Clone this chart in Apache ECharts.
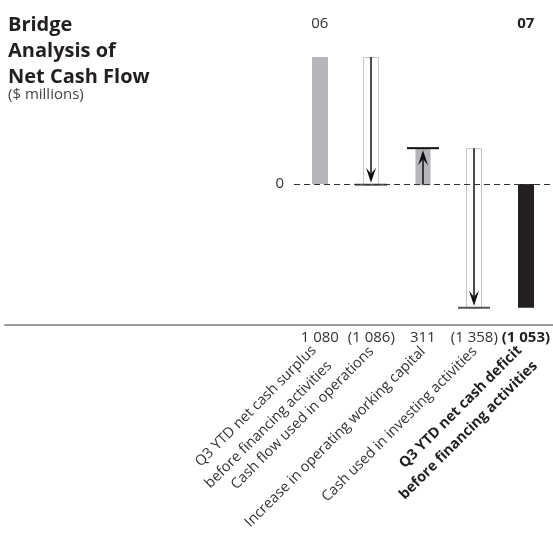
<!DOCTYPE html>
<html><head><meta charset="utf-8">
<script src="https://cdn.jsdelivr.net/npm/echarts@6/dist/echarts.min.js"></script>
<style>html,body{margin:0;padding:0;background:#fff}#c{width:553px;height:534px}</style>
</head><body><div id="c"></div>
<script>
const categories = [
  'Q3 YTD net cash surplus\nbefore financing activities',
  'Cash flow used in operations',
  'Increase in operating working capital',
  'Cash used in investing activities',
  'Q3 YTD net cash deficit\nbefore financing activities'
];
const values = [1080, -1086, 311, -1358, -1053];
const kinds = ['total', 'change', 'change', 'change', 'total'];
const yearLabels = ['06', '', '', '', '07'];
const yMin = -1200, yMax = 1200, yStep = 1200;

const FONT = 'Open Sans';
function fmt(v) {
  const s = String(Math.abs(v)).replace(/\B(?=(\d{3})+(?!\d))/g, ' ');
  return v < 0 ? '(' + s + ')' : s;
}
const valueLabels = values.map(fmt);

// build bridge data: [index, start, end, kindFlag]
let running = 0;
const bridge = values.map((v, i) => {
  let s, e;
  if (kinds[i] === 'total') { s = 0; e = v; running = v; }
  else { s = running; e = running + v; running = e; }
  return [i, s, e, kinds[i] === 'total' ? 0 : 1];
});

function renderItem(params, api) {
  const i = api.value(0), s = api.value(1), e = api.value(2), k = api.value(3);
  const a = api.coord([i, s]), b = api.coord([i, e]);
  const x = Math.round(a[0]);
  const w = 16, cap = 32;
  const top = Math.min(a[1], b[1]), h = Math.abs(a[1] - b[1]);
  const children = [];
  if (k === 0) {
    children.push({type: 'rect', shape: {x: x - w / 2, y: top, width: w, height: h},
      style: {fill: e >= 0 ? '#b5b6b9' : '#231f20'}});
  } else {
    const up = e > s;
    children.push({type: 'rect', shape: {x: x - w / 2 + 0.5, y: top + 0.5, width: w - 1, height: h},
      style: {fill: up ? '#b5b6b9' : '#ffffff', stroke: up ? null : '#c4c4c6', lineWidth: 1}});
    const dir = up ? -1 : 1;
    const tipY = b[1] - dir * 2;
    const headLen = 15, headW = 5;
    children.push({type: 'line', shape: {x1: x, y1: a[1], x2: x, y2: tipY - dir * headLen * 0.6},
      style: {stroke: '#111', lineWidth: 1.5}});
    children.push({type: 'polygon', shape: {points: [[x, tipY], [x - headW, tipY - dir * headLen],
      [x, tipY - dir * headLen * 0.6], [x + headW, tipY - dir * headLen]]}, style: {fill: '#111'}});
    children.push({type: 'line', shape: {x1: x - cap / 2, y1: b[1], x2: x + cap / 2, y2: b[1]},
      style: {stroke: up ? '#111' : '#555', lineWidth: 2}});
  }
  return {type: 'group', children: children};
}

const isMulti = v => v.indexOf('\n') >= 0;
function catLabelAxis(gridIndex, multi, margin, lh) {
  return {gridIndex: gridIndex, type: 'category', position: 'bottom', data: categories,
    axisLine: {show: false}, axisTick: {show: false},
    axisLabel: {interval: 0, rotate: 45, margin: margin, fontSize: 14.5, lineHeight: lh, color: '#333', fontFamily: FONT,
      formatter: (v, idx) => {
        if (isMulti(v) !== multi) return '';
        return (idx === categories.length - 1)
          ? v.split('\n').map(t => '{b|' + t + '}').join('\n') : v;
      },
      rich: {b: {fontWeight: 'bold', fontSize: 14.5, lineHeight: lh, color: '#231f20', fontFamily: FONT}}}};
}

const chart = echarts.init(document.getElementById('c'), null, {renderer: 'canvas'});
const gridGeom = {top: 43, height: 282};
const option = {
  animation: false,
  textStyle: {fontFamily: FONT},
  title: {
    text: 'Bridge\nAnalysis of\nNet Cash Flow',
    subtext: '($ millions)',
    left: 8, top: 12, itemGap: -4, padding: 0,
    textStyle: {fontFamily: FONT, fontSize: 20, fontWeight: 'bold', color: '#231f20', lineHeight: 26},
    subtextStyle: {fontFamily: FONT, fontSize: 15, color: '#444', lineHeight: 18}
  },
  grid: [
    Object.assign({left: 294, width: 258}, gridGeom),
    Object.assign({left: 5, right: 0}, gridGeom),
    Object.assign({left: 294, width: 258}, gridGeom),
    Object.assign({left: 296, width: 258}, gridGeom)
  ],
  xAxis: [
    {gridIndex: 0, type: 'category', position: 'bottom', data: valueLabels,
      axisLine: {show: false}, axisTick: {show: false},
      axisLabel: {interval: 0, margin: 5, fontSize: 15, color: '#333', fontFamily: FONT,
        formatter: (v, idx) => idx === values.length - 1 ? '{b|' + v + '}' : v,
        rich: {b: {fontWeight: 'bold', fontSize: 15, color: '#231f20', fontFamily: FONT}}}},
    {gridIndex: 0, type: 'category', position: 'top', data: yearLabels,
      axisLine: {show: false}, axisTick: {show: false},
      axisLabel: {interval: 0, margin: 12, fontSize: 15, color: '#333', fontFamily: FONT,
        formatter: (v, idx) => idx === yearLabels.length - 1 ? '{b|' + v + '}' : v,
        rich: {b: {fontWeight: 'bold', fontSize: 15, color: '#231f20', fontFamily: FONT}}}},
    {gridIndex: 1, type: 'value', min: 0, max: 1, position: 'bottom',
      axisLine: {show: true, lineStyle: {color: '#999', width: 2}},
      axisTick: {show: false}, axisLabel: {show: false}, splitLine: {show: false}},
    catLabelAxis(2, false, 27, 20),
    catLabelAxis(3, true, 31, 22)
  ],
  yAxis: [
    {gridIndex: 0, type: 'value', min: yMin, max: yMax, interval: yStep,
      axisLine: {show: false}, axisTick: {show: false}, splitLine: {show: false},
      axisLabel: {margin: 10, fontSize: 15, color: '#333', fontFamily: FONT,
        formatter: v => v === 0 ? '0' : ''}},
    {gridIndex: 1, type: 'value', show: false},
    {gridIndex: 2, type: 'value', show: false},
    {gridIndex: 3, type: 'value', show: false}
  ],
  series: [{
    type: 'custom', xAxisIndex: 0, yAxisIndex: 0,
    renderItem: renderItem, data: bridge, clip: false,
    markLine: {silent: true, symbol: ['none', 'none'], label: {show: false},
      lineStyle: {type: [6, 4], color: '#333', width: 1},
      data: [{yAxis: 0}]}
  }]
};
chart.setOption(option);
</script></body></html>
